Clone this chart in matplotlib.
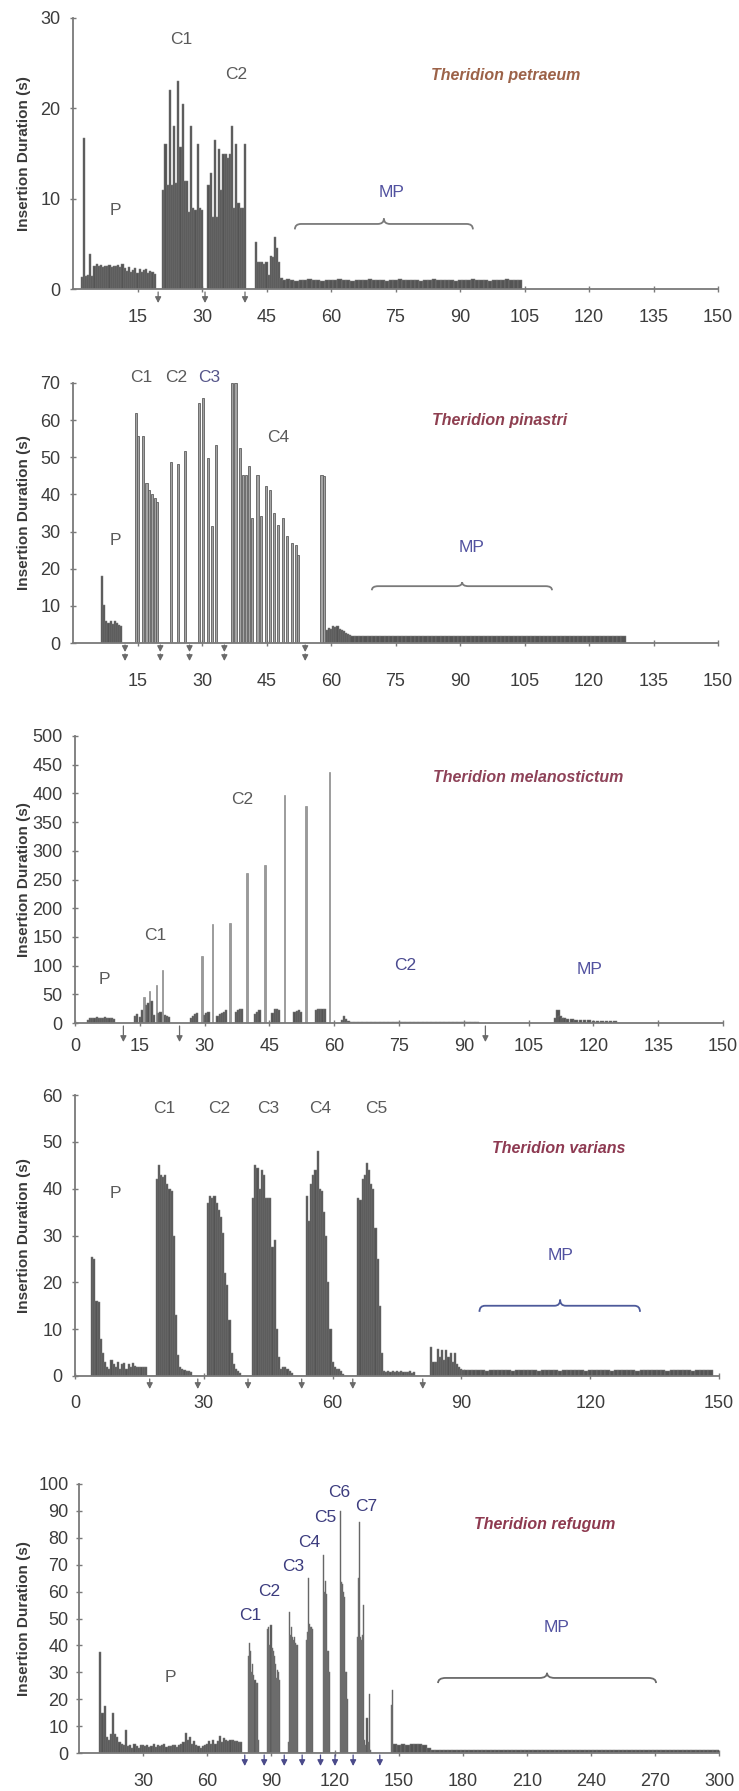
import numpy as np
import matplotlib
matplotlib.use("Agg")
import matplotlib.pyplot as plt
from matplotlib.path import Path
from matplotlib.patches import PathPatch
import matplotlib.transforms as mtransforms

plt.rcParams['font.family'] = ['Liberation Sans', 'DejaVu Sans']

# ====================== DATA ======================
species = ['Theridion petraeum', 'Theridion pinastri', 'Theridion melanostictum',
           'Theridion varians', 'Theridion refugum']
ylabel = 'Insertion Duration (s)'

# ---- Panel 1: Theridion petraeum (grid start 2.0, step 0.5) ----
p1_start, p1_step = 2.0, 0.5
p1_h = [1.3, 16.7, 1.4, 1.5, 3.9, 1.4, 2.6, 2.8, 2.5, 2.7,
        2.4, 2.6, 2.5, 2.7, 2.4, 2.6, 2.5, 2.7, 2.4, 2.8,
        2.3, 2.0, 2.4, 1.9, 2.1, 2.3, 1.8, 2.2, 1.9, 2.1,
        2.2, 1.8, 2.0, 1.9, 1.7, 0, 0, 0,
        11.0, 16.0, 11.5, 22.0, 11.5, 18.0, 11.7, 23.0, 15.7, 20.5,
        12.0, 12.0, 8.5, 18.0, 9.0, 8.8, 16.0, 9.0, 8.8, 0, 0,
        11.5, 12.8, 8.0, 16.5, 8.0, 15.5, 11.0, 15.0, 15.0, 14.5,
        15.0, 18.0, 9.0, 16.0, 9.5, 9.0, 9.0, 16.0, 0, 0, 0, 0,
        5.2, 3.0, 3.0, 3.0, 2.8, 3.0, 1.5, 3.6, 3.5, 5.8, 4.5, 3.0, 1.2]
p1_mp_start, p1_mp_step = 49, 1
p1_mp_h = [1.0, 1.1, 1.0, 0.9, 1.0, 1.0, 1.1, 1.0, 1.0, 0.9,
           1.0, 1.0, 1.0, 1.1, 1.0, 1.0, 0.9, 1.0, 1.0, 1.0,
           1.1, 1.0, 1.0, 1.0, 0.9, 1.0, 1.0, 1.1, 1.0, 1.0,
           1.0, 1.0, 0.9, 1.0, 1.0, 1.1, 1.0, 1.0, 1.0, 1.0,
           0.9, 1.0, 1.0, 1.0, 1.1, 1.0, 1.0, 1.0, 0.9, 1.0,
           1.0, 1.0, 1.1, 1.0, 1.0, 1.0]
p1_arrows = [19.8, 30.7, 40.0]

# ---- Panel 2: Theridion pinastri ----
p2_p_start, p2_p_step = 6.75, 0.5
p2_p_h = [18.0, 10.3, 6.0, 5.5, 6.0, 5.2, 5.8, 5.5, 4.8, 4.5]
p2_spike_x = [14.65, 15.2, 16.2, 17.1, 17.7, 18.4, 19.1, 19.6,
              22.8, 24.5, 26.0,
              29.3, 30.3, 31.3, 32.4, 33.3,
              36.9, 37.8, 38.8, 39.6, 40.2, 40.9, 41.7, 42.9, 43.7, 44.8,
              45.8, 46.7, 47.7, 48.9, 49.8, 50.9, 51.8, 52.3,
              57.8, 58.3]
p2_spike_h = [62, 55.6, 55.6, 43, 41.3, 40, 39, 38,
              48.7, 48.3, 51.6,
              64.6, 66, 49.8, 31.4, 53.4,
              70, 70, 52.5, 45.3, 45.3, 47.6, 33.7, 45.3, 34.1, 42.2,
              41.1, 35, 31.9, 33.7, 28.7, 26.9, 26.5, 23.8,
              45.3, 45]
p2_mp1_start, p2_mp1_step = 59.0, 0.5
p2_mp1_h = [3.5, 4.0, 3.8, 4.5, 4.2, 4.6, 3.8, 3.5, 3.2, 2.8, 2.5, 2.2]
p2_mp_start, p2_mp_step = 65, 1
p2_mp_h = [2.0, 1.9, 1.9, 2.0, 1.8, 1.9, 2.0, 1.9, 1.9, 1.8,
           1.9, 2.0, 1.9, 1.9, 1.8, 1.9, 2.0, 1.9, 1.9, 1.9,
           1.8, 1.9, 2.0, 1.9, 1.9, 1.8, 1.9, 1.9, 2.0, 1.9,
           1.9, 1.8, 1.9, 1.9, 2.0, 1.9, 1.9, 1.8, 1.9, 1.9,
           2.0, 1.9, 1.9, 1.8, 1.9, 1.9, 2.0, 1.9, 1.9, 1.8,
           1.9, 1.9, 2.0, 1.9, 1.9, 1.8, 1.9, 1.9, 2.0, 1.9,
           1.9, 1.8, 1.9, 1.9]
p2_arrows = [12.1, 20.3, 27.1, 35.2, 54.0]

# ---- Panel 3: Theridion melanostictum ----
p3_spike_x = [16.0, 17.3, 18.8, 20.3, 29.4, 31.9, 35.9, 39.8, 44.0, 48.5, 53.5, 58.9]
p3_spike_h = [45, 55, 66, 92, 116, 173, 174, 261, 275, 398, 378, 437]
p3_block_x = [3.0, 3.5, 4.0, 4.5, 5.0, 5.5, 6.0, 6.5, 7.0, 7.5, 8.0, 8.5, 9.0,
              13.8, 14.3, 15.0, 15.5, 16.5, 17.0, 17.7, 18.2, 19.3, 19.8, 20.8, 21.3, 21.8,
              26.8, 27.3, 27.8, 28.3, 29.9, 30.4, 30.9, 33.0, 33.5, 34.0, 34.5, 35.0,
              37.2, 37.7, 38.2, 38.7, 41.7, 42.2, 42.7, 45.7, 46.2, 46.7, 47.2,
              50.8, 51.3, 51.8, 52.3, 55.8, 56.3, 56.8, 57.3, 57.8,
              61.8, 62.3, 62.8, 63.3]
p3_block_h = [6, 8, 9, 8, 10, 9, 8, 9, 10, 8, 9, 8, 7,
              12, 16, 10, 22, 32, 35, 38, 14, 18, 20, 14, 12, 10,
              8, 12, 16, 18, 14, 18, 20, 12, 16, 18, 20, 22,
              20, 23, 25, 24, 16, 20, 22, 18, 24, 25, 22,
              20, 21, 22, 20, 22, 24, 25, 25, 24,
              6, 12, 7, 3]
p3_low_start, p3_low_step = 64, 1
p3_low_h = [2, 2, 1.5, 2, 1.5, 2, 2, 1.5, 2, 2, 2.5, 2, 2, 1.5, 2,
            2.5, 2, 2, 2.5, 2, 2, 2.5, 2, 2, 1.5, 2, 2, 1.5, 1, 1]
p3_mp_x = [111.3, 111.8, 112.3, 112.8, 113.3, 114, 115, 116, 117, 118, 119, 120, 121, 122, 123, 124, 125]
p3_mp_h = [8, 23, 12, 9, 8, 7, 7, 6, 6, 5, 5, 4, 4, 4, 3, 3, 3]
p3_arrows = [11.2, 24.2, 95.0]

# ---- Panel 4: Theridion varians (grid start 4.0, step 0.5) ----
p4_start, p4_step = 4.0, 0.5
p4_h = [25.5, 25.0, 16.0, 15.8, 8.0, 5.0, 3.0, 2.0, 1.5, 3.4,
        2.5, 2.0, 3.0, 1.5, 2.5, 2.8, 1.5, 2.5, 2.0, 2.8,
        2.2, 2.0, 2.0, 2.0, 2.0, 1.9, 0, 0, 0, 0,
        42, 45, 43, 42.5, 43, 41, 40, 39.5, 30, 13,
        4.5, 2, 1.5, 1.2, 1, 1, 0.8, 0, 0, 0, 0, 0, 0, 0,
        37, 38.5, 38, 38.5, 37, 35.5, 34, 30.5, 22, 19.5,
        12, 5, 2.5, 1.5, 1, 0.7, 0, 0, 0, 0, 0,
        38, 45, 44.5, 40, 44, 43, 38, 38, 38, 27.5,
        29, 10, 4, 1.5, 2, 2, 1.5, 1, 0.6, 0, 0, 0, 0, 0, 0,
        38.5, 33, 41, 43, 44, 48, 40, 39.5, 35, 30,
        20, 10, 3, 2, 1.5, 1.5, 1, 0.5, 0, 0, 0, 0, 0, 0,
        38, 37.5, 42, 43, 45.5, 44, 41, 40, 31.5, 25,
        15, 5, 1, 0.8, 1, 0.8, 1, 0.8, 1, 0.8,
        1, 0.8, 0.8, 0.8, 1, 0.7, 0.8, 0, 0, 0, 0, 0, 0, 0,
        6.2, 3, 3, 5.8, 4, 5.5, 3.5, 5.6, 4, 5, 3, 5, 2.5, 2, 1.5, 1.3]
p4_mp_start, p4_mp_step = 91, 1
p4_mp_h = [1.3, 1.2, 1.2, 1.3, 1.2, 1.1, 1.2, 1.2, 1.3, 1.2,
           1.2, 1.1, 1.2, 1.3, 1.2, 1.2, 1.2, 1.1, 1.2, 1.3,
           1.2, 1.2, 1.1, 1.2, 1.2, 1.3, 1.2, 1.2, 1.1, 1.2,
           1.2, 1.2, 1.3, 1.2, 1.1, 1.2, 1.2, 1.2, 1.3, 1.2,
           1.1, 1.2, 1.2, 1.2, 1.3, 1.2, 1.2, 1.1, 1.2, 1.2,
           1.3, 1.2, 1.2, 1.1, 1.2, 1.2, 1.2, 1.3]
p4_arrows = [17.4, 28.6, 40.3, 52.8, 64.7, 81.0]

# ---- Panel 5: Theridion refugum ----
p5_pre_start, p5_pre_step = 10, 1
p5_pre_h = [37.4, 15.0, 17.3, 6.0, 5.0, 7.0, 15.0, 7.0, 6.0, 4.0,
            3.5, 3.0, 8.5, 2.5, 3.0, 2.0, 3.2, 2.5, 2.0, 3.0,
            2.8, 2.5, 3.0, 2.2, 2.5, 3.2, 2.4, 3.0, 2.6, 2.8,
            3.2, 2.3, 2.7, 2.5, 3.0, 2.8, 2.4, 2.8, 3.4, 4.0,
            7.4, 5.0, 6.0, 3.5, 4.5, 3.0, 2.5, 2.0, 2.5, 3.0,
            3.5, 4.5, 3.5, 4.8, 3.5, 4.5, 6.2, 4.0, 5.5, 5.0,
            4.5, 4.8, 5.0, 4.5, 4.3, 4.0, 4.2]
p5_c_start, p5_c_step = 79.0, 0.5
p5_c_h = [0, 36, 41, 38, 30, 33, 29, 27, 26, 26, 5, 0, 0, 0, 0, 0, 0, 0, 0,
          46, 47, 40, 47.5, 39, 38, 36, 33, 28, 31, 30, 27, 0, 0, 0, 0, 0, 0, 0,
          4, 52.5, 44, 47, 43, 42, 43, 41, 40, 40, 0, 0, 0, 0, 0, 0, 0,
          42, 45, 65, 48, 47, 47, 46, 0, 0, 0, 0, 0, 0, 0, 0, 0,
          73.5, 60, 64, 59, 38, 38, 30, 0, 0, 0, 0, 0, 0, 0, 0, 0,
          90, 63.5, 63, 60, 58, 30, 30, 20, 0, 0, 0, 0, 0, 0, 0, 0,
          43, 65, 86, 43, 42, 44, 55, 5, 3, 13, 4, 22, 1]
p5_spike_x = [146.5, 147.0]
p5_spike_h = [18.0, 23.5]
p5_mp_start, p5_mp_step = 148, 2
p5_mp_h = [3.5, 3.0, 3.2, 3.0, 3.5, 3.4, 3.2, 3.0, 2.0, 1.3,
           1.2, 1.1, 1.2, 1.2, 1.1, 1.2, 1.2, 1.1, 1.2, 1.2,
           1.1, 1.2, 1.2, 1.1, 1.2, 1.2, 1.1, 1.2, 1.2, 1.1,
           1.2, 1.2, 1.1, 1.2, 1.2, 1.1, 1.2, 1.2, 1.1, 1.2,
           1.2, 1.1, 1.2, 1.2, 1.1, 1.2, 1.2, 1.1, 1.2, 1.2,
           1.1, 1.2, 1.2, 1.1, 1.2, 1.2, 1.1, 1.2, 1.2, 1.1,
           1.2, 1.2, 1.1, 1.2, 1.2, 1.1, 1.2, 1.2, 1.1, 1.2,
           1.2, 1.1, 1.2, 1.2, 1.1, 1.2, 1.0]
p5_arrows = [77.7, 86.8, 96.2, 104.6, 113.2, 120.0, 128.5, 141.0]

# ====================== STYLE / LAYOUT ======================
W, H = 739, 1791
fig = plt.figure(figsize=(W / 100, H / 100), dpi=100)

DARK = '#545454'
EDGE = '#7c7c7c'
AXC = '#7a7a7a'
TXT = '#3c3c3c'
GREY_LBL = '#5a5a5a'
MPC = '#5252a0'
NAVY = '#3c3c7e'


def grid_x(start, step, vals):
    return start + step * np.arange(len(vals))


def add_axes(l, r, top, bot):
    return fig.add_axes([l / W, 1 - bot / H, (r - l) / W, (bot - top) / H])


def dense(ax, x, h, w):
    ax.bar(x, h, width=w, color=DARK, edgecolor=EDGE, linewidth=0.35, zorder=2)


def spikes(ax, x, h, w, face='#a4a4a4', edge='#5e5e5e', lw=0.6):
    ax.bar(x, h, width=w, color=face, edgecolor=edge, linewidth=lw, zorder=3)


def style(ax, xlim, ylim, xticks, yticks, xpad, ypad):
    ax.set_xlim(*xlim)
    ax.set_ylim(*ylim)
    for s in ['top', 'right']:
        ax.spines[s].set_visible(False)
    for s in ['left', 'bottom']:
        ax.spines[s].set_color(AXC)
        ax.spines[s].set_linewidth(1.3)
        ax.spines[s].set_zorder(4)
    ax.set_xticks(xticks)
    ax.set_yticks(yticks)
    ax.tick_params(axis='both', direction='inout', length=5, width=1,
                   color=AXC, labelsize=13, labelcolor=TXT)
    ax.tick_params(axis='x', pad=xpad)
    ax.tick_params(axis='y', pad=ypad)
    ax.set_facecolor('none')


def brace(ax, x0, x1, xm, y, d, color):
    e = 0.035 * (x1 - x0)
    verts = [(x0, y - d), (x0, y), (x0 + e, y),
             (xm - e, y), (xm, y), (xm, y + d),
             (xm, y), (xm + e, y),
             (x1 - e, y), (x1, y), (x1, y - d)]
    codes = [Path.MOVETO, Path.CURVE3, Path.CURVE3,
             Path.LINETO, Path.CURVE3, Path.CURVE3,
             Path.CURVE3, Path.CURVE3,
             Path.LINETO, Path.CURVE3, Path.CURVE3]
    ax.add_patch(PathPatch(Path(verts, codes), fill=False, edgecolor=color,
                           linewidth=1.3, zorder=5, clip_on=False))


def arrows(ax, xs, top_px, len_px, color, double=False):
    for x in xs:
        pieces = [(top_px, len_px)] if not double else [(top_px, len_px / 2 - 1),
                                                         (top_px + len_px / 2 + 1, len_px / 2 - 1)]
        for t, ln in pieces:
            tr = mtransforms.offset_copy(ax.get_xaxis_transform(), fig=fig, x=0,
                                         y=-(t + ln) * 0.72, units='points')
            ax.annotate('', xy=(x, 0), xycoords=tr, xytext=(0, ln * 0.72),
                        textcoords='offset points', annotation_clip=False,
                        arrowprops=dict(arrowstyle='-|>,head_length=0.35,head_width=0.18',
                                        color=color, lw=0.9, shrinkA=0, shrinkB=0))


def title(ax, x, y, s, color):
    ax.text(x, y, s, fontsize=11.5, fontweight='bold', fontstyle='italic',
            color=color, ha='center', va='center', zorder=6)


def label(ax, x, y, s, color=GREY_LBL, size=12.5):
    ax.text(x, y, s, fontsize=size, color=color, ha='center', va='center',
            zorder=6, clip_on=False)


def ylab(top, bot):
    fig.text(24 / W, 1 - (top + bot) / 2 / H, ylabel, rotation=90, ha='center',
             va='center', fontsize=11, fontweight='bold', color='#3a3a3a')


# ---------------- Panel 1 ----------------
ax1 = add_axes(73, 718, 18, 289)
dense(ax1, grid_x(p1_start, p1_step, p1_h), p1_h, p1_step)
dense(ax1, grid_x(p1_mp_start, p1_mp_step, p1_mp_h), p1_mp_h, p1_mp_step)
style(ax1, (0, 150), (0, 30), np.arange(15, 151, 15), np.arange(0, 31, 10), 12, 6.5)
arrows(ax1, p1_arrows, 3, 11, '#6a6a6a')
label(ax1, 25.1, 27.6, 'C1')
label(ax1, 37.9, 23.7, 'C2')
label(ax1, 9.8, 8.7, 'P')
label(ax1, 74.0, 10.7, 'MP', MPC)
brace(ax1, 51.6, 93.0, 72.3, 7.2, 0.6, '#7a7a7a')
title(ax1, 100.7, 23.6, species[0], '#9c6248')
ylab(18, 289)

# ---------------- Panel 2 ----------------
ax2 = add_axes(73, 718, 383, 643)
dense(ax2, grid_x(p2_p_start, p2_p_step, p2_p_h), p2_p_h, p2_p_step)
spikes(ax2, p2_spike_x, p2_spike_h, 0.5)
dense(ax2, grid_x(p2_mp1_start, p2_mp1_step, p2_mp1_h), p2_mp1_h, p2_mp1_step)
dense(ax2, grid_x(p2_mp_start, p2_mp_step, p2_mp_h), p2_mp_h, p2_mp_step)
style(ax2, (0, 150), (0, 70), np.arange(15, 151, 15), np.arange(0, 71, 10), 19, 6.5)
arrows(ax2, p2_arrows, 2, 16, '#6a6a6a', double=True)
label(ax2, 15.8, 71.6, 'C1')
label(ax2, 24.0, 71.6, 'C2')
label(ax2, 31.6, 71.6, 'C3', '#56568a')
label(ax2, 47.7, 55.2, 'C4')
label(ax2, 9.8, 27.7, 'P')
label(ax2, 92.8, 25.8, 'MP', MPC)
brace(ax2, 69.5, 111.4, 90.5, 15.3, 1.1, '#7a7a7a')
title(ax2, 99.3, 60.0, species[1], '#8e3f50')
ylab(383, 643)

# ---------------- Panel 3 ----------------
ax3 = add_axes(75, 723, 736, 1023)
dense(ax3, p3_block_x, p3_block_h, 0.5)
spikes(ax3, p3_spike_x, p3_spike_h, 0.3, face='#9a9a9a', edge='#7a7a7a', lw=0.4)
dense(ax3, grid_x(p3_low_start, p3_low_step, p3_low_h), p3_low_h, p3_low_step)
dense(ax3, p3_mp_x, p3_mp_h, 0.8)
style(ax3, (0, 150), (0, 500), np.arange(0, 151, 15), np.arange(0, 501, 50), 8, 6.5)
arrows(ax3, p3_arrows, 3, 16, '#6a6a6a')
label(ax3, 6.7, 75, 'P')
label(ax3, 18.6, 153, 'C1')
label(ax3, 38.6, 390, 'C2')
label(ax3, 76.5, 101, 'C2', '#4a4a90')
label(ax3, 119.0, 94, 'MP', MPC)
title(ax3, 105.0, 428, species[2], '#8e4258')
ylab(736, 1023)

# ---------------- Panel 4 ----------------
ax4 = add_axes(75, 719, 1095, 1376)
dense(ax4, grid_x(p4_start, p4_step, p4_h), p4_h, p4_step)
dense(ax4, grid_x(p4_mp_start, p4_mp_step, p4_mp_h), p4_mp_h, p4_mp_step)
style(ax4, (0, 150), (0, 60), np.arange(0, 151, 30), np.arange(0, 61, 10), 11, 6.5)
arrows(ax4, p4_arrows, 3, 10, '#6a6a6a')
for xc, s in zip([20.9, 33.5, 45.1, 57.0, 70.2], ['C1', 'C2', 'C3', 'C4', 'C5']):
    label(ax4, xc, 57.2, s)
label(ax4, 9.5, 39.0, 'P')
label(ax4, 113.0, 25.8, 'MP', MPC)
brace(ax4, 94.2, 131.6, 113.0, 15.0, 1.3, '#4d5a9a')
title(ax4, 112.6, 48.5, species[3], '#8e3a52')
ylab(1095, 1376)

# ---------------- Panel 5 ----------------
ax5 = add_axes(79, 719, 1484, 1753)
dense(ax5, grid_x(p5_pre_start, p5_pre_step, p5_pre_h), p5_pre_h, p5_pre_step)
dense(ax5, grid_x(p5_c_start, p5_c_step, p5_c_h), p5_c_h, p5_c_step)
dense(ax5, p5_spike_x, p5_spike_h, 0.5)
dense(ax5, grid_x(p5_mp_start, p5_mp_step, p5_mp_h), p5_mp_h, p5_mp_step)
style(ax5, (0, 300), (0, 100), np.arange(30, 301, 30), np.arange(0, 101, 10), 12, 5)
arrows(ax5, p5_arrows, 2, 11, '#4a4a8a')
label(ax5, 42.7, 27.9, 'P')
for xc, yc, s in zip([80.2, 89.1, 100.3, 107.8, 115.4, 121.9, 134.6],
                     [51.3, 60.0, 69.5, 78.4, 87.4, 96.7, 91.8],
                     ['C1', 'C2', 'C3', 'C4', 'C5', 'C6', 'C7']):
    label(ax5, xc, yc, s, NAVY)
label(ax5, 224.0, 46.8, 'MP', MPC)
brace(ax5, 168.3, 270.5, 219.4, 27.9, 1.9, '#6a6a6a')
title(ax5, 218.5, 84.8, species[4], '#8e3a50')
ylab(1484, 1753)

fig.savefig('out.png', dpi=100)
